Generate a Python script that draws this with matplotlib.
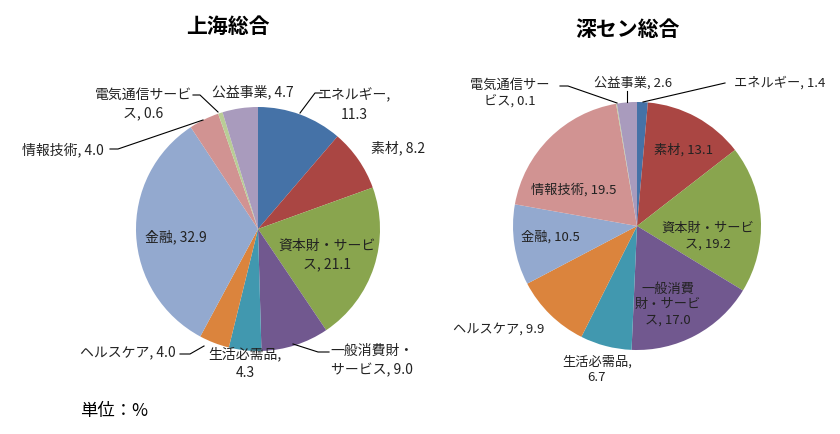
import matplotlib.pyplot as plt

plt.rcParams['font.family'] = ['Noto Sans CJK JP', 'DejaVu Sans']

sectors = ["エネルギー", "素材", "資本財・サービス", "一般消費財・サービス", "生活必需品",
           "ヘルスケア", "金融", "情報技術", "電気通信サービス", "公益事業"]
shanghai = [11.3, 8.2, 21.1, 9.0, 4.3, 4.0, 32.9, 4.0, 0.6, 4.7]
shenzhen = [1.4, 13.1, 19.2, 17.0, 6.7, 9.9, 10.5, 19.5, 0.1, 2.6]

colors = ["#4572A7", "#AA4643", "#89A54E", "#71588F", "#4198AF",
          "#DB843D", "#93A9CF", "#D19392", "#B9CD96", "#A99BBD"]

# how each label is broken into lines (Excel style wrapping)
sh_labels = ["エネルギー,\n{}", "素材, {}", "資本財・サービ\nス, {}", "一般消費財・\nサービス, {}",
             "生活必需品,\n{}", "ヘルスケア, {}", "金融, {}", "情報技術, {}",
             "電気通信サービ\nス, {}", "公益事業, {}"]
sz_labels = ["エネルギー, {}", "素材, {}", "資本財・サービ\nス, {}", "一般消費\n財・サービ\nス, {}",
             "生活必需品,\n{}", "ヘルスケア, {}", "金融, {}", "情報技術, {}",
             "電気通信サー\nビス, {}", "公益事業, {}"]

# label positions in pixels (x, y from top)
sh_pos = [(354, 105), (398, 148), (327, 255), (372, 361), (245, 363),
          (128, 352), (176, 237), (63, 150), (143, 104), (253, 92)]
sz_pos = [(780, 83), (684, 150), (708, 236), (668, 305), (597, 370),
          (499, 329), (550, 237), (574, 190), (510, 93), (633, 83)]

sh_lines = [[(300, 114), (315, 94), (322, 94)],
            [(110, 150), (118, 150), (203, 121)],
            [(193, 96), (200, 96), (218, 113)],
            [(180, 355), (190, 355), (204, 347)],
            [(293, 345), (318, 353), (329, 353)]]
sz_lines = [[(725, 84), (643, 103)],
            [(560, 87), (568, 87), (617, 104)],
            [(627, 92), (627, 103)]]

fig = plt.figure(figsize=(8.4, 4.35), dpi=100)
ax = fig.add_axes([0, 0, 1, 1])

# y axis is inverted (pixels from top), so clockwise on screen = counterclock in data
ax.pie(shanghai, colors=colors, center=(258, 230), radius=122, startangle=-90,
       counterclock=True, wedgeprops=dict(linewidth=0))
ax.pie(shenzhen, colors=colors, center=(637, 227), radius=124, startangle=-90,
       counterclock=True, wedgeprops=dict(linewidth=0))

for lab, v, (x, y) in zip(sh_labels, shanghai, sh_pos):
    ax.text(x, y, lab.format(f"{v:.1f}"), ha="center", va="center", fontsize=10,
            linespacing=1.45, color="#222222")
for lab, v, (x, y) in zip(sz_labels, shenzhen, sz_pos):
    ax.text(x, y, lab.format(f"{v:.1f}"), ha="center", va="center", fontsize=9.5,
            linespacing=1.25, color="#222222")

for pts in sh_lines + sz_lines:
    ax.plot([p[0] for p in pts], [p[1] for p in pts], color="black", linewidth=0.8)

ax.text(228, 26, "上海総合", ha="center", va="center", fontsize=15, fontweight="bold")
ax.text(628, 29, "深セン総合", ha="center", va="center", fontsize=15, fontweight="bold")
ax.text(80, 411, "単位：%", ha="left", va="center", fontsize=12.5)

ax.set_xlim(0, 840)
ax.set_ylim(435, 0)
ax.set_aspect("equal")
ax.axis("off")

fig.savefig("out.png", dpi=100, facecolor="white")
